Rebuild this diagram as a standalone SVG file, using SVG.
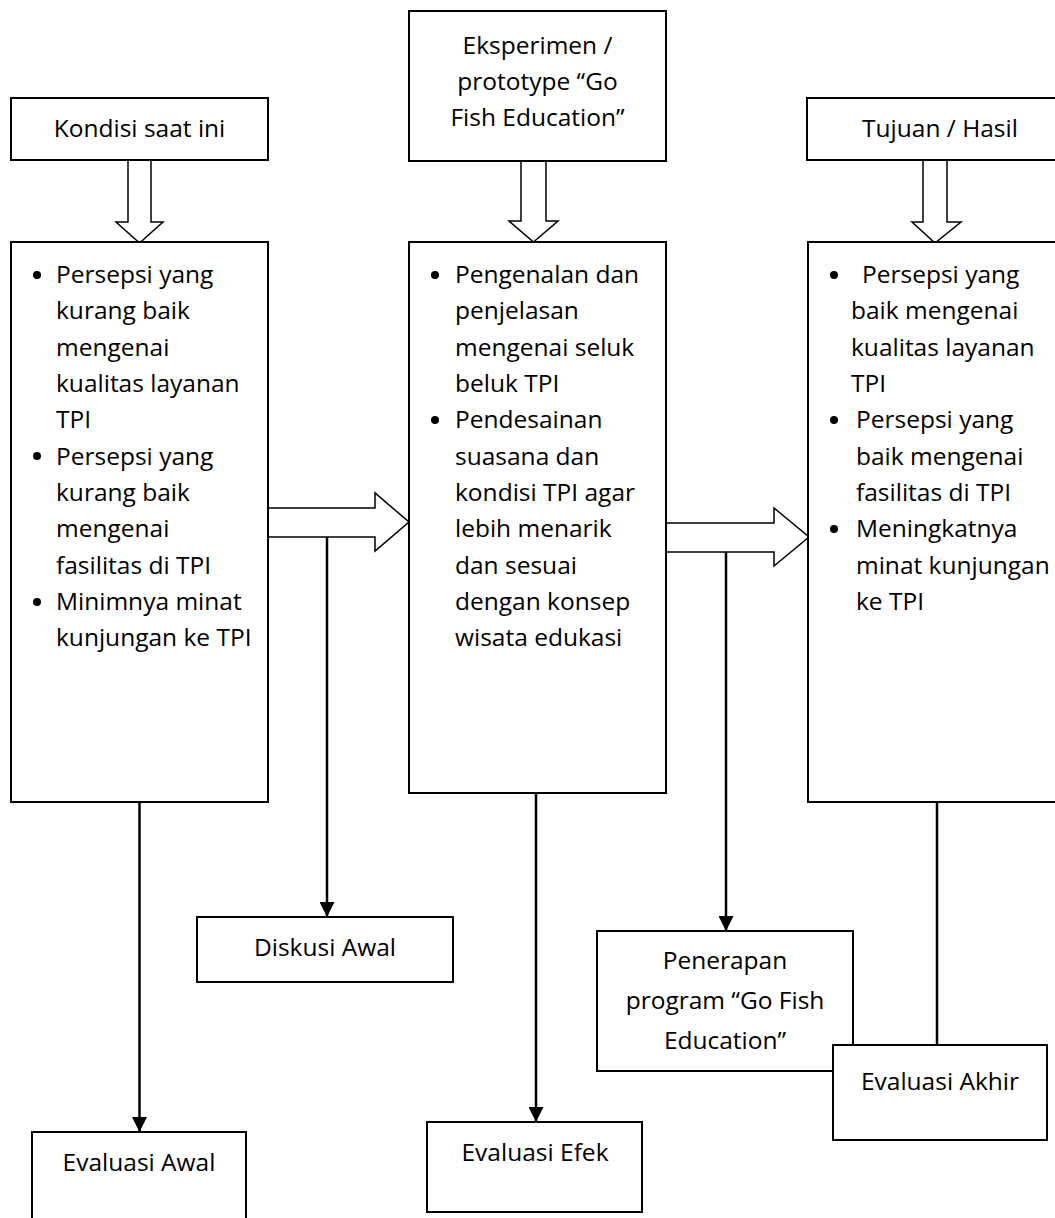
<svg xmlns="http://www.w3.org/2000/svg" width="1055" height="1218" viewBox="0 0 1055 1218">
<style>
.box{fill:#fff;stroke:#000;stroke-width:2}
.t{font-family:"Open Sans","Noto Sans","Liberation Sans",sans-serif;font-size:24.5px;fill:#000}
.c{text-anchor:middle}
.ln{stroke:#000;stroke-width:2.5;fill:none}
.ha{fill:#fff;stroke:#000;stroke-width:1.5;stroke-linejoin:miter}
</style>
<defs>
<marker id="ah" viewBox="0 0 10 10" refX="10" refY="5" markerWidth="6" markerHeight="6" markerUnits="strokeWidth" orient="auto">
<path d="M0,0 L10,5 L0,10 Z" fill="#000"/>
</marker>
</defs>

<g id="connectors">
<path class="ha" d="M128,160 L151,160 L151,222 L163,222 L139.5,243 L116,222 L128,222 Z"/>
<path class="ha" d="M521,161 L546,161 L546,221 L558,221 L533.5,242 L509,221 L521,221 Z"/>
<path class="ha" d="M923,160 L947,160 L947,222 L961,222 L935,243 L912,222 L923,222 Z"/>
<path class="ha" d="M268,508 L375,508 L375,493 L409,522 L375,551 L375,537 L268,537 Z"/>
<path class="ha" d="M666,523 L774,523 L774,508 L809,537 L774,566 L774,552 L666,552 Z"/>
<line class="ln" x1="139.5" y1="802" x2="139.5" y2="1132" marker-end="url(#ah)"/>
<line class="ln" x1="327" y1="537" x2="327" y2="917" marker-end="url(#ah)"/>
<line class="ln" x1="536" y1="793" x2="536" y2="1122" marker-end="url(#ah)"/>
<line class="ln" x1="726" y1="552" x2="726" y2="931" marker-end="url(#ah)"/>
<line class="ln" x1="937" y1="802" x2="937" y2="1045"/>
</g>

<g id="h1">
<rect class="box" x="11" y="98" width="257" height="62"/>
<text class="t c" x="139.5" y="137">Kondisi saat ini</text>
</g>
<g id="h2">
<rect class="box" x="409" y="11" width="257" height="150"/>
<text class="t c" x="537.5" y="54">Eksperimen /</text>
<text class="t c" x="537.5" y="90">prototype “Go</text>
<text class="t c" x="537.5" y="126">Fish Education”</text>
</g>
<g id="h3">
<rect class="box" x="807" y="98" width="260" height="62"/>
<text class="t c" x="940" y="137">Tujuan / Hasil</text>
</g>

<g id="m1">
<rect class="box" x="11" y="242" width="257" height="560"/>
<circle cx="37" cy="275" r="4"/>
<circle cx="37" cy="456" r="4"/>
<circle cx="37" cy="602" r="4"/>
<text class="t" x="56" y="283">Persepsi yang</text>
<text class="t" x="56" y="319">kurang baik</text>
<text class="t" x="56" y="356">mengenai</text>
<text class="t" x="56" y="392">kualitas layanan</text>
<text class="t" x="56" y="428">TPI</text>
<text class="t" x="56" y="465">Persepsi yang</text>
<text class="t" x="56" y="501">kurang baik</text>
<text class="t" x="56" y="537">mengenai</text>
<text class="t" x="56" y="574">fasilitas di TPI</text>
<text class="t" x="56" y="610">Minimnya minat</text>
<text class="t" x="56" y="646">kunjungan ke TPI</text>
</g>

<g id="m2">
<rect class="box" x="409" y="242" width="257" height="551"/>
<circle cx="435" cy="275" r="4"/>
<circle cx="435" cy="420" r="4"/>
<text class="t" x="455" y="283">Pengenalan dan</text>
<text class="t" x="455" y="319">penjelasan</text>
<text class="t" x="455" y="356">mengenai seluk</text>
<text class="t" x="455" y="392">beluk TPI</text>
<text class="t" x="455" y="428">Pendesainan</text>
<text class="t" x="455" y="465">suasana dan</text>
<text class="t" x="455" y="501">kondisi TPI agar</text>
<text class="t" x="455" y="537">lebih menarik</text>
<text class="t" x="455" y="574">dan sesuai</text>
<text class="t" x="455" y="610">dengan konsep</text>
<text class="t" x="455" y="646">wisata edukasi</text>
</g>

<g id="m3">
<rect class="box" x="808" y="242" width="260" height="560"/>
<circle cx="834" cy="275" r="4"/>
<circle cx="834" cy="420" r="4"/>
<circle cx="834" cy="529" r="4"/>
<text class="t" x="862" y="283">Persepsi yang</text>
<text class="t" x="851" y="319">baik mengenai</text>
<text class="t" x="851" y="356">kualitas layanan</text>
<text class="t" x="851" y="392">TPI</text>
<text class="t" x="856" y="428">Persepsi yang</text>
<text class="t" x="856" y="465">baik mengenai</text>
<text class="t" x="856" y="501">fasilitas di TPI</text>
<text class="t" x="856" y="537">Meningkatnya</text>
<text class="t" x="856" y="574">minat kunjungan</text>
<text class="t" x="856" y="610">ke TPI</text>
</g>

<g id="diskusi">
<rect class="box" x="197" y="917" width="256" height="65"/>
<text class="t c" x="325" y="956">Diskusi Awal</text>
</g>
<g id="penerapan">
<rect class="box" x="597" y="931" width="256" height="140"/>
<text class="t c" x="725" y="969">Penerapan</text>
<text class="t c" x="725" y="1009">program “Go Fish</text>
<text class="t c" x="725" y="1049">Education”</text>
</g>
<g id="eval_awal">
<rect class="box" x="32" y="1132" width="214" height="100"/>
<text class="t c" x="139" y="1171">Evaluasi Awal</text>
</g>
<g id="eval_efek">
<rect class="box" x="427" y="1122" width="215" height="90"/>
<text class="t c" x="535" y="1161">Evaluasi Efek</text>
</g>
<g id="eval_akhir">
<rect class="box" x="833" y="1045" width="214" height="95"/>
<text class="t c" x="940" y="1090">Evaluasi Akhir</text>
</g>
</svg>
